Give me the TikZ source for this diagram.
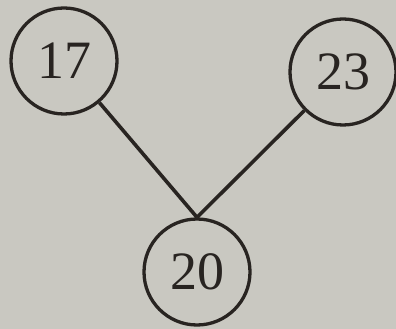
\documentclass[tikz,border=0pt]{standalone}
\usepackage{fontspec}
\setmainfont{Liberation Serif}
\definecolor{paper}{RGB}{201,200,193}
\definecolor{ink}{RGB}{40,36,33}
\begin{document}
\begin{tikzpicture}[x=1pt, y=1pt,
	keynode/.style={shape=circle, draw=ink, line width=3.3pt, minimum size=106pt, inner sep=0pt, text=ink, font=\fontsize{54}{54}\selectfont},
	edge/.style={draw=ink, line width=3.6pt}]
	% Background and frame:
	\fill[paper] (0, 0) rectangle (396, 329);
	\useasboundingbox (0, 0) rectangle (396, 329);
	% Nodes:
	\node[keynode] (n17) at (64, 268){17};
	\node[keynode] (n23) at (343, 257){23};
	\node[keynode] (n20) at (197, 57){20};
	% Edges:
	\draw[edge] (n17) -- (n20.north);
	\draw[edge] (n23) -- (n20.north);
\end{tikzpicture}
\end{document}
